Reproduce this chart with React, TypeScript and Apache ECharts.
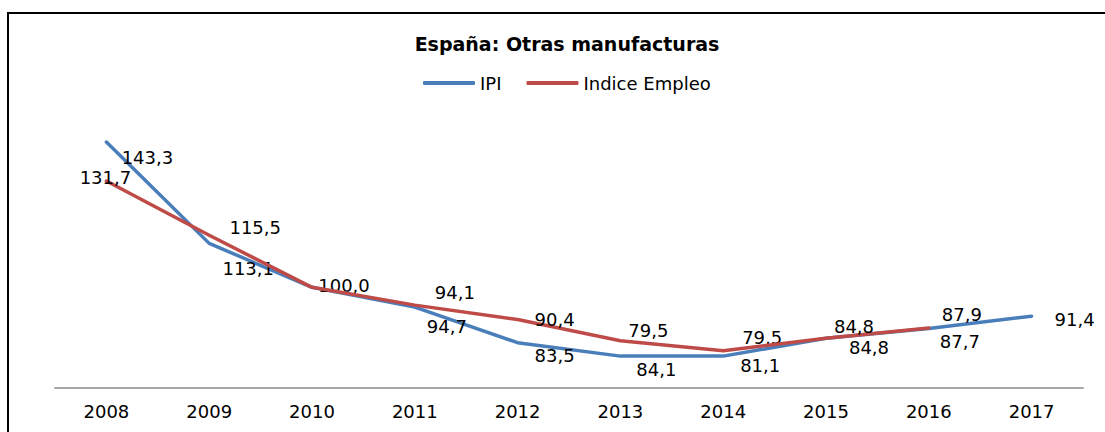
import React, { useEffect, useRef } from "react";
import * as echarts from "echarts";

const years = ["2008", "2009", "2010", "2011", "2012", "2013", "2014", "2015", "2016", "2017"];
const ipi = [143.3, 113.1, 100.0, 94.1, 83.5, 79.5, 79.5, 84.8, 87.7, 91.4];
const empleo: (number | null)[] = [131.7, 115.5, 100.0, 94.7, 90.4, 84.1, 81.1, 84.8, 87.9, null];

// label offsets (px) from each point, null = label hidden
const ipiLabelOffsets: ([number, number] | null)[] = [
  [41, 15], [39, 25], [32, -2], [40, -15], [37, 13], [28, -26], [39, -19], [43, 9], [31, 13], [43, 3],
];
const empleoLabelOffsets: ([number, number] | null)[] = [
  [-1, -3], [46, -8], null, [32, 21], [37, 0], [36, 29], [37, 15], [28, -12], [33, -13], null,
];

const fmt = (v: number) => v.toFixed(1).replace(".", ",");

function buildData(values: (number | null)[], offsets: ([number, number] | null)[]) {
  return values.map((v, i) => {
    const off = offsets[i];
    if (v === null) return { value: null };
    if (!off) return { value: v, label: { show: false } };
    return { value: v, label: { show: true, offset: off } };
  });
}

export default function App() {
  const ref = useRef<HTMLDivElement>(null);
  useEffect(() => {
    if (!ref.current) return;
    const chart = echarts.init(ref.current, undefined, { renderer: "svg" });
    const font = "DejaVu Sans";
    const labelCfg = {
      show: true,
      position: "inside",
      align: "center",
      verticalAlign: "middle",
      color: "#000",
      fontFamily: font,
      fontSize: 18,
      formatter: (p: any) => fmt(p.value),
    };
    chart.setOption({
      animation: false,
      backgroundColor: "#fff",
      title: {
        text: "España: Otras manufacturas",
        left: 562,
        textAlign: "center",
        top: 29,
        textStyle: { fontFamily: font, fontSize: 19, fontWeight: "bold", color: "#000" },
      },
      legend: {
        top: 69,
        left: 418,
        itemWidth: 52,
        itemHeight: 4,
        itemGap: 25,
        icon: "roundRect",
        textStyle: { fontFamily: font, fontSize: 18, color: "#000" },
        data: ["IPI", "Indice Empleo"],
      },
      grid: { left: 55, right: 22, top: 86, bottom: 44 },
      xAxis: {
        type: "category",
        data: years,
        boundaryGap: true,
        axisLine: { show: true, lineStyle: { color: "#a6a6a6", width: 2 } },
        axisTick: { show: false },
        axisLabel: { color: "#000", fontFamily: font, fontSize: 18, margin: 14 },
        splitLine: { show: false },
      },
      yAxis: {
        type: "value",
        min: 70,
        max: 160,
        show: false,
        splitLine: { show: false },
      },
      graphic: [
        {
          type: "polyline",
          shape: { points: [[8, 440], [8, 13], [1110, 13]] },
          style: { stroke: "#000", lineWidth: 2, fill: "none" },
          silent: true,
        },
      ],
      series: [
        {
          name: "IPI",
          type: "line",
          data: buildData(ipi, ipiLabelOffsets),
          symbol: "circle",
          symbolSize: 0.1,
          showSymbol: true,
          itemStyle: { color: "#4a7ebb" },
          lineStyle: { color: "#4a7ebb", width: 3.5, cap: "round", join: "round" },
          label: labelCfg,
          z: 2,
        },
        {
          name: "Indice Empleo",
          type: "line",
          data: buildData(empleo, empleoLabelOffsets),
          symbol: "circle",
          symbolSize: 0.1,
          showSymbol: true,
          itemStyle: { color: "#be4b48" },
          lineStyle: { color: "#be4b48", width: 3.5, cap: "round", join: "round" },
          label: labelCfg,
          z: 3,
        },
      ],
    });
    return () => chart.dispose();
  }, []);
  return (
    <div
      ref={ref}
      style={{ position: "absolute", left: 0, top: 0, width: 1105, height: 432 }}
    />
  );
}
